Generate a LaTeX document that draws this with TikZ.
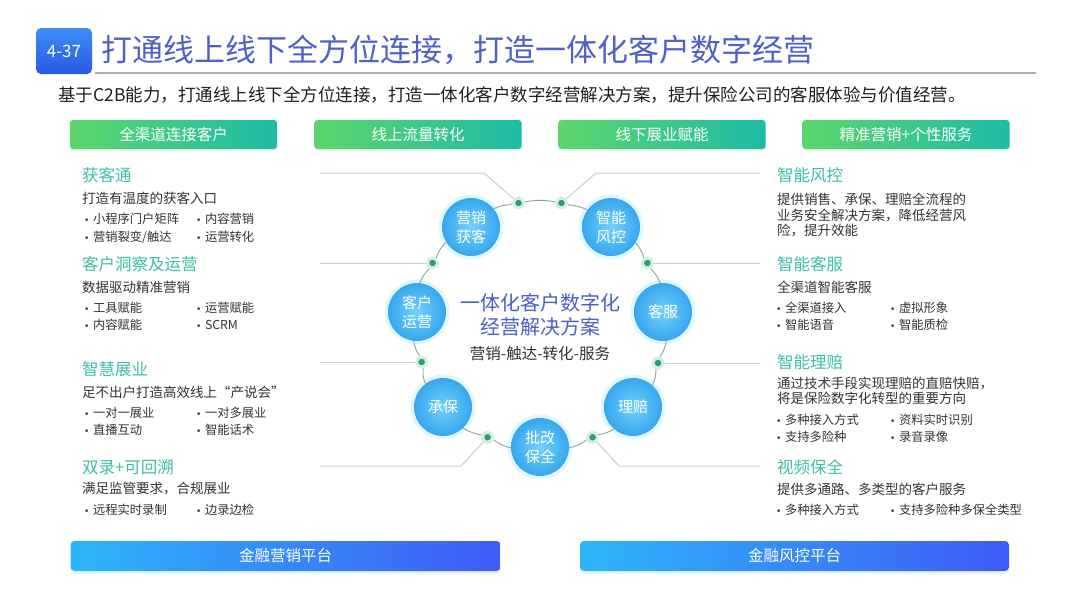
\documentclass[tikz,border=0pt]{standalone}
\usepackage{fontspec}
\setmainfont{Noto Sans CJK SC}
\newfontfamily\bulfont{DejaVu Sans}
\usetikzlibrary{shadows,calc}
\newcommand{\myfs}[1]{\fontsize{#1}{#1}\selectfont}
\newcommand{\bdot}{{\bulfont\fontsize{9}{9}\selectfont •}\hspace{3.5pt}}
\definecolor{headteal}{HTML}{3DBFA8}
\definecolor{bodyc}{HTML}{333333}
\definecolor{titleblue}{HTML}{4F60C8}
\definecolor{greenL}{HTML}{5CD66C}
\definecolor{greenR}{HTML}{1DBBA6}
\definecolor{blueL}{HTML}{2DB6F8}
\definecolor{blueR}{HTML}{3F5BF6}
\definecolor{circIn}{HTML}{72D2FA}
\definecolor{circOut}{HTML}{36A6EE}
\definecolor{ringc}{HTML}{8AA89A}
\definecolor{leadc}{HTML}{CCCCCC}
\definecolor{dotg}{HTML}{2E9E70}
\definecolor{doth}{HTML}{D3EFE1}
\definecolor{ctext}{HTML}{4B5EC8}
\definecolor{badgeA}{HTML}{3C8DF6}
\definecolor{badgeB}{HTML}{2B58E4}
\begin{document}
\begin{tikzpicture}[x=1pt,y=-1pt,
  hdr/.style={anchor=west, inner sep=0pt, text=headteal, font=\myfs{16.5}},
  body/.style={anchor=west, inner sep=0pt, text=bodyc, font=\fontsize{13.5}{15.5}\selectfont, align=left},
  item/.style={anchor=west, inner sep=0pt, text=bodyc, font=\myfs{12.3}},
  gbar/.style={rounded corners=3pt, left color=greenL, right color=greenR, minimum width=207pt, minimum height=29pt, inner sep=0pt, text=white, font=\myfs{15.5},
     drop shadow={shadow xshift=0pt, shadow yshift=-2pt, opacity=0.12}},
  bbar/.style={rounded corners=4pt, left color=blueL, right color=blueR, minimum height=30pt, inner sep=0pt, text=white, font=\myfs{15.5},
     drop shadow={shadow xshift=0pt, shadow yshift=-3pt, opacity=0.12, fill=blueL}},
  bub/.style={circle, minimum size=58pt, inner sep=0pt, inner color=circIn, outer color=circOut, text=white, align=center, font=\fontsize{15}{19}\selectfont,
     drop shadow={shadow xshift=0pt, shadow yshift=0pt, shadow scale=1.12, opacity=0.2, fill=circIn}},
  gdot/.style={circle, minimum size=10pt, inner sep=0pt, fill=dotg, draw=doth, line width=3pt},
  ring/.style={draw=ringc, line width=0.9pt},
  lead/.style={draw=leadc, line width=1pt}
]
\useasboundingbox (0,0) rectangle (1080,608);
\fill[white] (0,0) rectangle (1080,608);

% header
\node[rounded corners=5pt, top color=badgeA, bottom color=badgeB, minimum width=56pt, minimum height=46pt, inner sep=0pt, text=white, font=\myfs{17}] (badge) at (64,51) {4-37};
\node[anchor=west, inner sep=0pt, text=titleblue, font=\myfs{31}] (title) at (101,50) {打通线上线下全方位连接，打造一体化客户数字经营};
\draw[draw=black!32, line width=1.5pt] (95,73) -- (1036,73);
\node[anchor=west, inner sep=0pt, text=black!88, font=\myfs{17.5}] (sub) at (58,95) {基于C2B能力，打通线上线下全方位连接，打造一体化客户数字经营解决方案，提升保险公司的客服体验与价值经营。};

% green bars
\node[gbar] (g1) at (173.5,134.5) {全渠道连接客户};
\node[gbar] (g2) at (418,134.5) {线上流量转化};
\node[gbar] (g3) at (662,134.5) {线下展业赋能};
\node[gbar] (g4) at (906,134.5) {精准营销+个性服务};

% left column
\node[hdr] (h1) at (82,175) {获客通};
\node[body] (b1) at (82,198) {打造有温度的获客入口};
\node[item] (i11) at (84,219) {\bdot 小程序门户矩阵};
\node[item] (i12) at (196,219) {\bdot 内容营销};
\node[item] (i13) at (84,237) {\bdot 营销裂变/触达};
\node[item] (i14) at (196,237) {\bdot 运营转化};

\node[hdr] (h2) at (82,264) {客户洞察及运营};
\node[body] (b2) at (82,287) {数据驱动精准营销};
\node[item] (i21) at (84,308) {\bdot 工具赋能};
\node[item] (i22) at (196,308) {\bdot 运营赋能};
\node[item] (i23) at (84,325) {\bdot 内容赋能};
\node[item] (i24) at (196,325) {\bdot SCRM};

\node[hdr] (h3) at (82,369) {智慧展业};
\node[body] (b3) at (82,392) {足不出户打造高效线上“产说会”};
\node[item] (i31) at (84,413) {\bdot 一对一展业};
\node[item] (i32) at (196,413) {\bdot 一对多展业};
\node[item] (i33) at (84,430) {\bdot 直播互动};
\node[item] (i34) at (196,430) {\bdot 智能话术};

\node[hdr] (h4) at (82,467) {双录+可回溯};
\node[body] (b4) at (82,489) {满足监管要求，合规展业};
\node[item] (i41) at (84,510) {\bdot 远程实时录制};
\node[item] (i42) at (196,510) {\bdot 边录边检};

% right column
\node[hdr] (h5) at (777,175) {智能风控};
\node[body] (b5) at (777,215) {提供销售、承保、理赔全流程的\\业务安全解决方案，降低经营风\\险，提升效能};
\node[hdr] (h6) at (777,264) {智能客服};
\node[body] (b6) at (777,287) {全渠道智能客服};
\node[item] (i61) at (776,308) {\bdot 全渠道接入};
\node[item] (i62) at (890,308) {\bdot 虚拟形象};
\node[item] (i63) at (776,325) {\bdot 智能语音};
\node[item] (i64) at (890,325) {\bdot 智能质检};

\node[hdr] (h7) at (777,362) {智能理赔};
\node[body] (b7) at (777,391) {通过技术手段实现理赔的直赔快赔，\\将是保险数字化转型的重要方向};
\node[item] (i71) at (776,420) {\bdot 多种接入方式};
\node[item] (i72) at (890,420) {\bdot 资料实时识别};
\node[item] (i73) at (776,437) {\bdot 支持多险种};
\node[item] (i74) at (890,437) {\bdot 录音录像};

\node[hdr] (h8) at (777,467) {视频保全};
\node[body] (b8) at (777,489) {提供多通路、多类型的客户服务};
\node[item] (i81) at (776,510) {\bdot 多种接入方式};
\node[item] (i82) at (890,510) {\bdot 支持多险种多保全类型};

% ring dots
\node[gdot] (dA) at (518.5,203) {};
\node[gdot] (dB) at (561.5,203) {};
\node[gdot] (dC) at (647.4,263) {};
\node[gdot] (dD) at (658,363) {};
\node[gdot] (dE) at (592.6,437.3) {};
\node[gdot] (dF) at (487.6,437.3) {};
\node[gdot] (dG) at (421.6,362) {};
\node[gdot] (dH) at (432.6,263) {};

% bubbles
\node[bub] (c1) at (471,227) {营销\\获客};
\node[bub] (c2) at (611,227) {智能\\风控};
\node[bub] (c3) at (663,312) {客服};
\node[bub] (c4) at (633,407) {理赔};
\node[bub] (c5) at (540,447) {批改\\保全};
\node[bub] (c6) at (443,407) {承保};
\node[bub] (c7) at (417,312) {客户\\运营};

% ring segments
\draw[ring] (c2) to[bend right=10] (dB);
\draw[ring] (dB) to[bend right=10] (dA);
\draw[ring] (dA) to[bend right=12] (c1);
\draw[ring] (c1) to[bend right=12] (dH);
\draw[ring] (dH) to[bend right=12] (c7);
\draw[ring] (c7) to[bend right=12] (dG);
\draw[ring] (dG) to[bend right=12] (c6);
\draw[ring] (c6) to[bend right=12] (dF);
\draw[ring] (dF) to[bend right=12] (c5);
\draw[ring] (c5) to[bend right=12] (dE);
\draw[ring] (dE) to[bend right=12] (c4);
\draw[ring] (c4) to[bend right=12] (dD);
\draw[ring] (dD) to[bend right=12] (c3);
\draw[ring] (c3) to[bend right=12] (dC);
\draw[ring] (dC) to[bend right=12] (c2);

% leader lines
\coordinate (kA) at (484,173);
\coordinate (eA) at (320,173);
\coordinate (kB) at (596,173);
\coordinate (eB) at (760,173);
\coordinate (eH) at (320,263);
\coordinate (eC) at (760,263);
\coordinate (eG) at (320,362);
\coordinate (eD) at (760,363);
\coordinate (kF) at (461,466);
\coordinate (eF) at (320,466);
\coordinate (kE) at (619,466);
\coordinate (eE) at (760,466);
\draw[lead] (dA) -- (kA) -- (eA);
\draw[lead] (dB) -- (kB) -- (eB);
\draw[lead] (dH) -- (eH);
\draw[lead] (dC) -- (eC);
\draw[lead] (dG) -- (eG);
\draw[lead] (dD) -- (eD);
\draw[lead] (dF) -- (kF) -- (eF);
\draw[lead] (dE) -- (kE) -- (eE);

% center text
\node[inner sep=0pt, text=ctext, align=center, font=\fontsize{20}{24}\selectfont] (ctitle) at (540,315) {一体化客户数字化\\经营解决方案};
\node[inner sep=0pt, text=bodyc, font=\myfs{15.5}] (cflow) at (540,354) {营销-触达-转化-服务};

% bottom bars
\node[bbar, minimum width=430pt] (p1) at (285.5,556) {金融营销平台};
\node[bbar, minimum width=429pt] (p2) at (794.5,556) {金融风控平台};
\end{tikzpicture}
\end{document}
